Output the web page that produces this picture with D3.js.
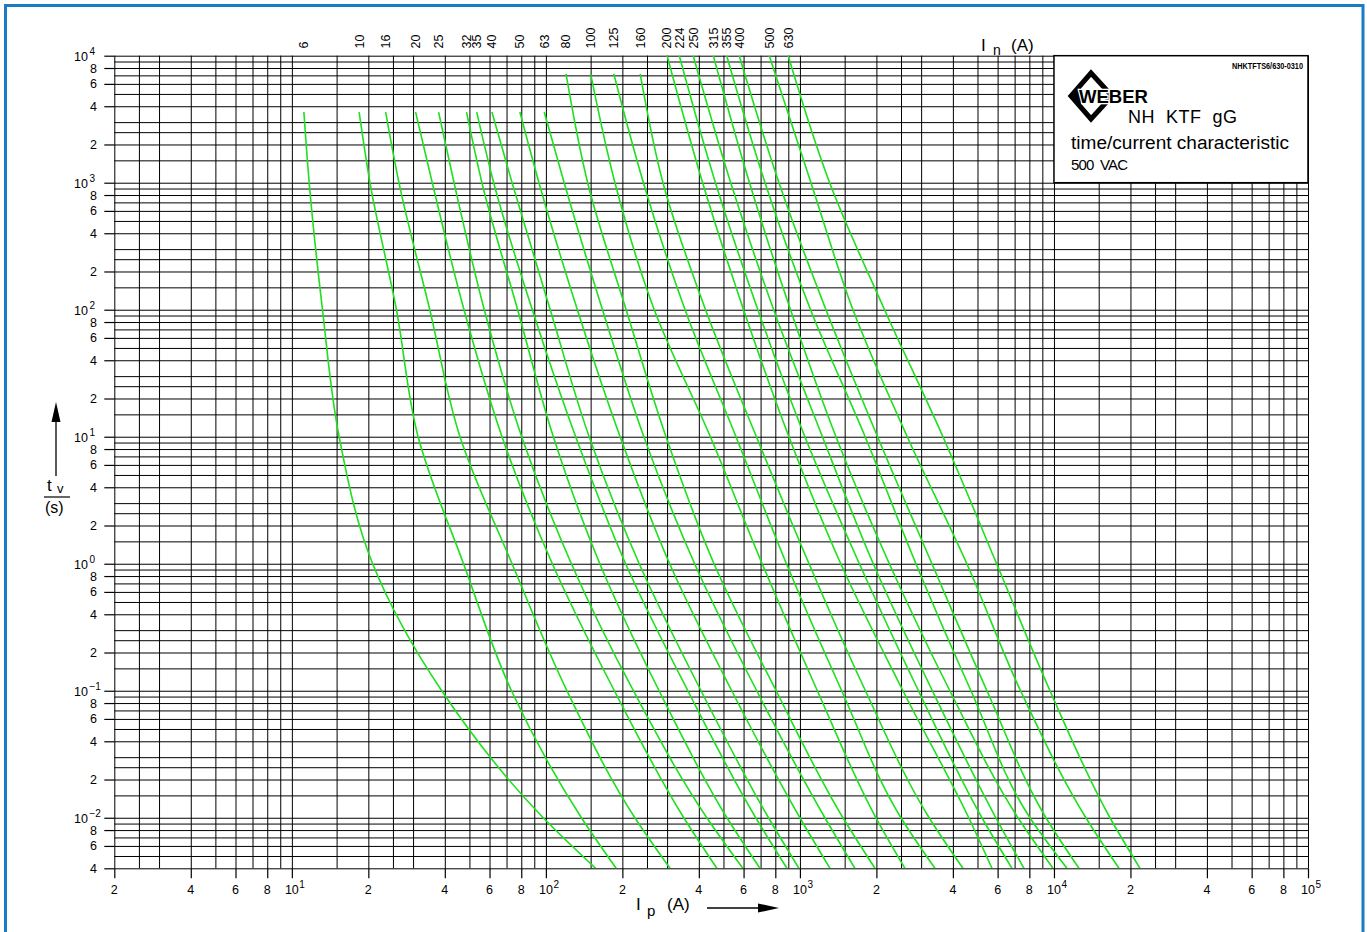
<!DOCTYPE html>
<html lang="en">
<head>
<meta charset="UTF-8">
<title>NH KTF gG time/current characteristic</title>
<script src="https://d3js.org/d3.v7.min.js"></script>
<style>
  body { margin: 0; background: #fff; }
  svg { display: block; font-family: "Liberation Sans", Arial, sans-serif; }
  .grid line { stroke: #000; stroke-width: 1; }
  .ticks line { stroke: #000; stroke-width: 1.2; }
  .curve { fill: none; stroke: #1ee01e; stroke-width: 1.6; }
  .lbl { font-size: 12.5px; fill: #000; }
</style>
</head>
<body>
<svg id="chart" width="1367" height="932"></svg>
<script>
// fuse ratings In (A), in the order the curves run left to right
var ratings = [6, 10, 16, 20, 25, 32, 35, 40, 50, 63, 80, 100, 125, 160, 200, 224, 250, 315, 355, 400, 500, 630];
// time (s) where each curve starts at the top
var startTimes = [3600, 3600, 3600, 3600, 3600, 3600, 3600, 3600, 3600, 3600,
                  7200, 7200, 7200, 7200,
                  10000, 10000, 10000, 10000, 10000, 10000, 10000, 10000];
// times (s) at which the currents below were read
var levelTimes = [1000, 100, 10, 1, 0.1, 0.01, 0.004];
// prospective current Ip (A): first at the start time, then at each level time
var meltCurrents = [
  [11.15, 11.7, 13.2, 15.35, 20.8, 38.9, 97.6, 157],
  [18.4, 20.3, 25.8, 31.4, 47.4, 73.2, 138, 189],
  [23.4, 26.4, 34.9, 45.9, 73.6, 121, 224, 308],
  [30.7, 35.7, 47.6, 67.2, 106, 186, 349, 471],
  [37.8, 43.5, 57.2, 80.3, 126, 221, 430, 596],
  [48.7, 56.0, 77.4, 107, 163, 279, 516, 696],
  [53.4, 62.3, 88.4, 131, 206, 362, 670, 889],
  [61.3, 73.6, 104, 148, 233, 408, 752, 991],
  [79.0, 93.9, 133, 196, 307, 539, 1000, 1313],
  [98.5, 118, 167, 243, 385, 676, 1254, 1646],
  [120, 146, 207, 297, 459, 806, 1477, 1974],
  [150, 187, 267, 444, 710, 1171, 1992, 2591],
  [185, 242, 353, 560, 885, 1460, 2498, 3400],
  [235, 289, 425, 674, 1086, 1811, 3226, 4382],
  [300, 414, 600, 905, 1448, 2544, 4619, 5701],
  [335, 465, 683, 1046, 1714, 2928, 5206, 6833],
  [380, 534, 788, 1226, 1944, 3321, 5906, 7619],
  [456, 633, 918, 1386, 2249, 3892, 7216, 9911],
  [515, 729, 1101, 1806, 2862, 4712, 8045, 11251],
  [577, 827, 1266, 2021, 3309, 5448, 9300, 12543],
  [757, 1105, 1617, 2645, 4540, 7388, 13354, 18026],
  [899, 1309, 2153, 3656, 5948, 9645, 16615, 21808]
];
// grid lines inside each decade, and the labelled ticks
var gridSteps = [1, 1.5, 2, 2.5, 3, 4, 5, 6, 7, 8, 9];
var tickSteps = [2, 4, 6, 8];

var plotLeft = 114.3, plotRight = 1308, plotTop = 55.7, plotBottom = 868.3;
var svg = d3.select("#chart");

svg.append("rect").attr("width", 1367).attr("height", 932).attr("fill", "#fff");
svg.append("rect")
    .attr("x", 5.5).attr("y", 5.5).attr("width", 1357.5).attr("height", 950)
    .attr("fill", "none").attr("stroke", "#1b7bc4").attr("stroke-width", 3);

var x = d3.scaleLog().domain([2, 1e5]).range([plotLeft, plotRight]);
var y = d3.scaleLog().domain([0.004, 1e4]).range([plotBottom, plotTop]);

function valuesIn(steps, domain, e0, e1) {
    var out = [];
    for (var k = e0; k <= e1; k++) {
        steps.forEach(function(m) {
            var v = +(m * Math.pow(10, k)).toPrecision(6);
            if (v >= domain[0] * 0.999 && v <= domain[1] * 1.001) out.push(v);
        });
    }
    return out;
}
var xGrid = valuesIn(gridSteps, x.domain(), 0, 5);
var yGrid = valuesIn(gridSteps, y.domain(), -3, 4);
var xTicks = valuesIn(tickSteps.concat([1]), x.domain(), 0, 5);
var yTicks = valuesIn(tickSteps.concat([1]), y.domain(), -3, 4);

// grid
svg.append("g").attr("class", "grid")
    .attr("transform", "translate(0," + plotBottom + ")")
    .call(d3.axisBottom(x).tickValues(xGrid).tickSize(-(plotBottom - plotTop)).tickFormat(""))
    .call(function(g) { g.select(".domain").remove(); });
svg.append("g").attr("class", "grid")
    .attr("transform", "translate(" + plotLeft + ",0)")
    .call(d3.axisLeft(y).tickValues(yGrid).tickSize(-(plotRight - plotLeft)).tickFormat(""))
    .call(function(g) { g.select(".domain").remove(); });

// outer tick marks
svg.append("g").attr("class", "ticks")
    .attr("transform", "translate(0," + plotBottom + ")")
    .call(d3.axisBottom(x).tickValues(xTicks).tickSize(10).tickFormat(""))
    .call(function(g) { g.select(".domain").remove(); });
svg.append("g").attr("class", "ticks")
    .attr("transform", "translate(" + plotLeft + ",0)")
    .call(d3.axisLeft(y).tickValues(yTicks).tickSize(10).tickFormat(""))
    .call(function(g) { g.select(".domain").remove(); });

function isPow10(v) { return Math.abs(Math.log10(v) - Math.round(Math.log10(v))) < 1e-6; }
function mantissa(v) { return Math.round(v / Math.pow(10, Math.floor(Math.log10(v) + 1e-9))); }

// x tick labels
xTicks.forEach(function(v) {
    var px = x(v);
    if (isPow10(v)) {
        svg.append("text").attr("class", "lbl").attr("x", px).attr("y", 894)
            .attr("text-anchor", "middle").text("10");
        svg.append("text").attr("class", "lbl").attr("x", px + 7.5).attr("y", 888)
            .style("font-size", "10px").text(Math.round(Math.log10(v)));
    } else {
        svg.append("text").attr("class", "lbl").attr("x", px).attr("y", 894)
            .attr("text-anchor", "middle").text(mantissa(v));
    }
});

// y tick labels
yTicks.forEach(function(v) {
    var py = y(v);
    if (isPow10(v)) {
        svg.append("text").attr("class", "lbl").attr("x", 88).attr("y", py + 5)
            .attr("text-anchor", "end").text("10");
        var e = Math.round(Math.log10(v));
        svg.append("text").attr("class", "lbl").attr("x", 89.5).attr("y", py - 1)
            .style("font-size", "10px").text(e < 0 ? "\u2212" + (-e) : e);
    } else {
        svg.append("text").attr("class", "lbl").attr("x", 97).attr("y", py + 4.5)
            .attr("text-anchor", "end").text(mantissa(v));
    }
});

// curves
svg.append("clipPath").attr("id", "plot")
    .append("rect").attr("x", plotLeft).attr("y", plotTop)
    .attr("width", plotRight - plotLeft).attr("height", plotBottom - plotTop);

var line = d3.line()
    .x(function(d) { return x(d[0]); })
    .y(function(d) { return y(d[1]); })
    .curve(d3.curveMonotoneY);

var curves = svg.append("g").attr("clip-path", "url(#plot)");
ratings.forEach(function(r, i) {
    var pts = [[meltCurrents[i][0], startTimes[i]]];
    levelTimes.forEach(function(t, j) { pts.push([meltCurrents[i][j + 1], t]); });
    curves.append("path").attr("class", "curve").attr("d", line(pts));

    svg.append("text").attr("class", "lbl")
        .attr("transform", "translate(" + x(meltCurrents[i][0]) + ",48.5) rotate(-90)")
        .attr("dy", "0.35em")
        .text(r);
});

// In (A) label
var inLbl = svg.append("text").attr("x", 981).attr("y", 51).style("font-size", "17px");
inLbl.append("tspan").text("I");
inLbl.append("tspan").attr("x", 993).attr("y", 55).style("font-size", "14px").text("n");
inLbl.append("tspan").attr("x", 1011).attr("y", 51).text("(A)");

// Ip (A) label and arrow
var ipLbl = svg.append("text").attr("x", 636).attr("y", 910).style("font-size", "17px");
ipLbl.append("tspan").text("I");
ipLbl.append("tspan").attr("x", 647).attr("y", 916).style("font-size", "15px").text("p");
ipLbl.append("tspan").attr("x", 667).attr("y", 910).text("(A)");
svg.append("line").attr("x1", 707).attr("x2", 765).attr("y1", 908).attr("y2", 908)
    .attr("stroke", "#000").attr("stroke-width", 1.3);
svg.append("path").attr("d", "M758,903.5 L779,908 L758,912.5 Z").attr("fill", "#000");

// tv (s) label and arrow
svg.append("line").attr("x1", 56).attr("x2", 56).attr("y1", 476).attr("y2", 415)
    .attr("stroke", "#000").attr("stroke-width", 1.3);
svg.append("path").attr("d", "M51.5,422 L56,402 L60.5,422 Z").attr("fill", "#000");
var tvLbl = svg.append("text").attr("x", 47).attr("y", 491).style("font-size", "17px");
tvLbl.append("tspan").text("t");
tvLbl.append("tspan").attr("x", 57).attr("y", 493).style("font-size", "13px").text("v");
svg.append("line").attr("x1", 44).attr("x2", 70).attr("y1", 497).attr("y2", 497)
    .attr("stroke", "#000").attr("stroke-width", 1.2);
svg.append("text").attr("x", 45).attr("y", 513).style("font-size", "16px").text("(s)");

// title block
var bx = x(1e4), by = y(1000);
svg.append("rect").attr("x", bx).attr("y", plotTop).attr("width", plotRight - bx).attr("height", by - plotTop)
    .attr("fill", "#fff").attr("stroke", "#000").attr("stroke-width", 1.5);
svg.append("text").attr("x", 1232).attr("y", 68.5)
    .attr("textLength", 71).attr("lengthAdjust", "spacingAndGlyphs")
    .style("font-size", "9px").style("font-weight", "bold").text("NHKTFTS6/630-0310");
svg.append("path").attr("d", "M1091,73 L1112,96 L1091,119 L1071,96 Z")
    .attr("fill", "none").attr("stroke", "#000").attr("stroke-width", 5).attr("stroke-linejoin", "miter");
svg.append("path").attr("d", "M1069,96 L1081,84 L1081,108 Z").attr("fill", "#000");
svg.append("text").attr("x", 1079).attr("y", 102.5)
    .attr("textLength", 69).attr("lengthAdjust", "spacingAndGlyphs")
    .style("font-size", "19px").style("font-weight", "bold")
    .attr("stroke", "#fff").attr("stroke-width", 2.5).attr("paint-order", "stroke")
    .text("WEBER");
svg.append("text").attr("x", 1128).attr("y", 123)
    .attr("textLength", 109).attr("xml:space", "preserve")
    .style("font-size", "18px").text("NH  KTF  gG");
svg.append("text").attr("x", 1071).attr("y", 149)
    .attr("textLength", 218).attr("lengthAdjust", "spacingAndGlyphs")
    .style("font-size", "18px").text("time/current characteristic");
svg.append("text").attr("x", 1071).attr("y", 169.5)
    .attr("textLength", 57).attr("xml:space", "preserve")
    .style("font-size", "15px").text("500  VAC");
</script>
</body>
</html>
